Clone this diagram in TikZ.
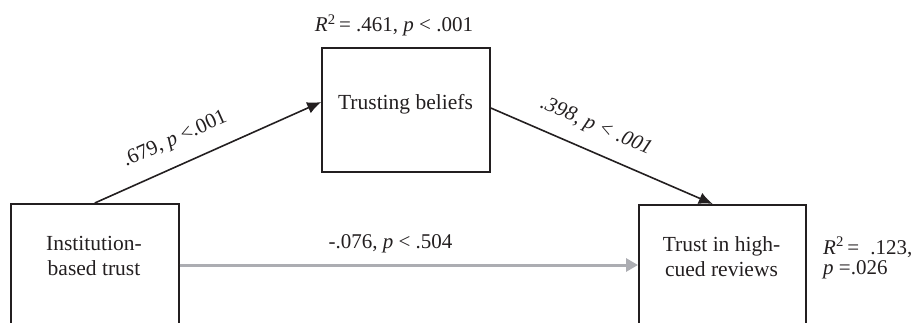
\documentclass[tikz,border=0pt]{standalone}
\usepackage{fontspec}
\setmainfont{Liberation Serif}
\usetikzlibrary{arrows.meta,calc}
\definecolor{arrgray}{RGB}{172,173,178}
\definecolor{ink}{RGB}{35,31,32}
\begin{document}
\begin{tikzpicture}[x=1pt,y=1pt,
  box/.style={draw=ink, line width=1.6pt, inner sep=0pt},
  txt/.style={font=\fontsize{21.5}{25}\selectfont, text=ink, align=center, inner sep=0pt},
  elabel/.style={font=\fontsize{21}{25}\selectfont, text=ink, inner sep=0pt, sloped},
  blackarrow/.style={draw=ink, line width=1.6pt, -{Latex[length=14pt,width=12pt]}},
  grayarrow/.style={draw=arrgray, line width=3pt, -{Triangle[length=12pt,width=13pt]}}
]
\useasboundingbox (0,0) rectangle (912,-323);
\clip (0,0) rectangle (912,-323);

% boxes
\node[box, minimum width=168pt, minimum height=124pt] (tb) at (406,-110) {};
\node[box, minimum width=168pt, minimum height=170pt, anchor=north west] (inst) at (10,-203) {};
\node[box, minimum width=167pt, minimum height=170pt, anchor=north west] (trust) at (638,-204) {};

% box texts
\node[txt, anchor=base] (tbt) at (405.5,-110) {Trusting beliefs};
\node[txt, anchor=base] (instt) at (94,-275) {Institution-\\based trust};
\node[txt, anchor=base] (trustt) at (721.5,-276.5) {Trust in high-\\cued reviews};

% R^2 labels
\node[txt, font=\fontsize{21}{25}\selectfont, anchor=base] (r2top) at (394,-32) {\textit{R}\textsuperscript{2}\,= .461, \textit{p} < .001};
\node[txt, anchor=base west, align=left, font=\fontsize{21}{19.5}\selectfont] (r2right) at (823,-274) {\textit{R}\textsuperscript{2}\,=\; .123,\\\textit{p} =.026};

% connectors
\coordinate (glevel) at (0,-265);
\draw[grayarrow] (inst.east |- glevel) -- (trust.west |- glevel)
  node[txt, font=\fontsize{21}{25}\selectfont, pos=0.46, anchor=base, yshift=17pt] (dlabel) {-.076, \textit{p} < .504};

\draw[blackarrow] (inst.north) -- ($(tb.west)+(0,8)$)
  node[elabel, pos=0.40, above=15pt] (alabel) {.679, \textit{p} <.001};

\draw[blackarrow] ($(tb.east)+(0,2)$) -- ($(trust.north)+(-9.5,0)$)
  node[elabel, pos=0.43, above=14.5pt] (blabel) {\itshape .398, p < .001};
\end{tikzpicture}
\end{document}
